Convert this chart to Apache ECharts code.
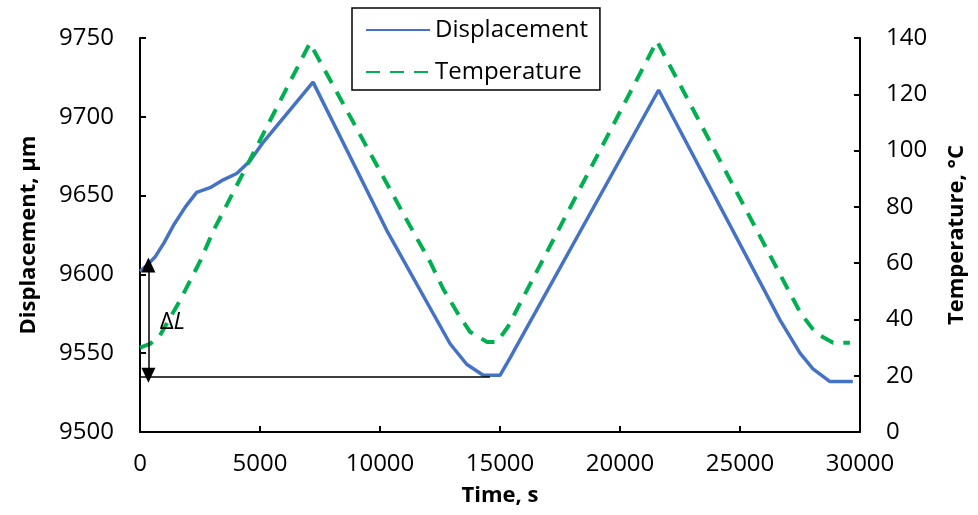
<!DOCTYPE html>
<html>
<head>
<meta charset="utf-8">
<script src="https://cdn.jsdelivr.net/npm/echarts@6/dist/echarts.min.js"></script>
<style>
  html, body { margin: 0; padding: 0; background: #fff; }
  #chart { width: 978px; height: 515px; }
</style>
</head>
<body>
<div id="chart"></div>
<script>
// Displacement curve (time in s, displacement in µm)
const dispTime = [0, 300, 625, 1000, 1390, 1900, 2360, 2920, 3470, 4030, 4580, 5140, 7210, 10280, 12920, 13610, 14300, 15000, 15420, 21610, 26670, 27500, 28040, 28750, 29700];
const dispValue = [9602, 9606, 9611, 9620, 9631, 9643, 9652, 9655, 9660, 9664, 9672, 9684, 9722, 9628, 9556, 9543, 9536, 9536, 9547, 9717, 9571, 9550, 9540, 9532, 9532];

// Temperature curve (time in s, temperature in °C)
const tempTime = [0, 420, 830, 1670, 2500, 3040, 7080, 11380, 12080, 12630, 13200, 13750, 14460, 14880, 15330, 21540, 27500, 28000, 28330, 28880, 29580];
const tempValue = [30, 31.3, 34.3, 46.8, 60.6, 71.2, 138.2, 71.2, 60.6, 50.9, 42.7, 35.6, 32, 32, 37.4, 138.9, 42.6, 36.9, 34.3, 31.7, 31.7];

// ΔL annotation: baseline level and arrow ends
const baseLevel = 9535;
const baseEnd = 14580;
const arrowTime = 350;
const arrowTop = 9606;
const arrowBottom = 9536;

const font = '"Open Sans", "Noto Sans", sans-serif';

const chart = echarts.init(document.getElementById('chart'), null, { renderer: 'canvas' });

const axisLine = { show: true, lineStyle: { color: '#000', width: 2 } };
const axisTick = { show: true, inside: true, length: 6, lineStyle: { color: '#000', width: 2 } };
const axisLabel = { color: '#000', fontFamily: font, fontSize: 24, formatter: v => String(v) };
const axisName = { color: '#000', fontFamily: font, fontSize: 22, fontWeight: 'bold' };

chart.setOption({
    animation: false,
    grid: { left: 140, right: 118, top: 38, bottom: 83, containLabel: false, outerBoundsMode: 'none' },
    legend: {
        orient: 'vertical',
        left: 352,
        top: 8,
        itemWidth: 64,
        itemHeight: 20,
        itemGap: 18,
        padding: [10, 12, 6, 13],
        borderColor: '#000',
        borderWidth: 1.5,
        itemStyle: { opacity: 0 },
        textStyle: { color: '#000', fontFamily: font, fontSize: 24 },
        data: ['Displacement', 'Temperature']
    },
    xAxis: {
        type: 'value',
        min: 0,
        max: 30000,
        interval: 5000,
        name: 'Time, s',
        nameLocation: 'middle',
        nameGap: 53,
        nameTextStyle: axisName,
        axisLine: axisLine,
        axisTick: axisTick,
        axisLabel: Object.assign({ margin: 20 }, axisLabel),
        splitLine: { show: false }
    },
    yAxis: [
        {
            type: 'value',
            min: 9500,
            max: 9750,
            interval: 50,
            name: 'Displacement, µm',
            nameLocation: 'middle',
            nameGap: 100,
            nameRotate: 90,
            nameTextStyle: axisName,
            axisLine: axisLine,
            axisTick: axisTick,
            axisLabel: Object.assign({ margin: 26 }, axisLabel),
            splitLine: { show: false }
        },
        {
            type: 'value',
            position: 'right',
            min: 0,
            max: 140,
            interval: 20,
            name: 'Temperature, °C',
            nameLocation: 'middle',
            nameGap: 86,
            nameRotate: 90,
            nameTextStyle: axisName,
            axisLine: axisLine,
            axisTick: axisTick,
            axisLabel: Object.assign({ margin: 26 }, axisLabel),
            splitLine: { show: false }
        }
    ],
    series: [
        {
            name: 'Displacement',
            type: 'line',
            yAxisIndex: 0,
            symbol: 'none',
            color: '#4472C4',
            lineStyle: { color: '#4472C4', width: 3.5 },
            data: dispTime.map((t, i) => [t, dispValue[i]]),
            markLine: {
                silent: true,
                animation: false,
                label: { show: false },
                lineStyle: { color: '#000', width: 1.5, type: 'solid' },
                data: [
                    [
                        { coord: [0, baseLevel], symbol: 'none' },
                        { coord: [baseEnd, baseLevel], symbol: 'none' }
                    ],
                    [
                        { coord: [arrowTime, arrowTop], symbol: 'triangle', symbolSize: [14, 15] },
                        { coord: [arrowTime, arrowBottom], symbol: 'triangle', symbolSize: [14, 15] }
                    ]
                ]
            },
            markPoint: {
                silent: true,
                symbol: 'circle',
                symbolSize: 0,
                label: {
                    show: true,
                    position: 'inside',
                    formatter: '{a|Δ}{b|L}',
                    rich: {
                        a: { color: '#000', fontFamily: font, fontSize: 24 },
                        b: { color: '#000', fontFamily: font, fontSize: 24, fontStyle: 'italic' }
                    }
                },
                data: [{ coord: [1350, 9570] }]
            }
        },
        {
            name: 'Temperature',
            type: 'line',
            yAxisIndex: 1,
            symbol: 'none',
            color: '#00B050',
            lineStyle: { color: '#00B050', width: 4, type: [14, 10] },
            data: tempTime.map((t, i) => [t, tempValue[i]])
        }
    ]
});
</script>
</body>
</html>
